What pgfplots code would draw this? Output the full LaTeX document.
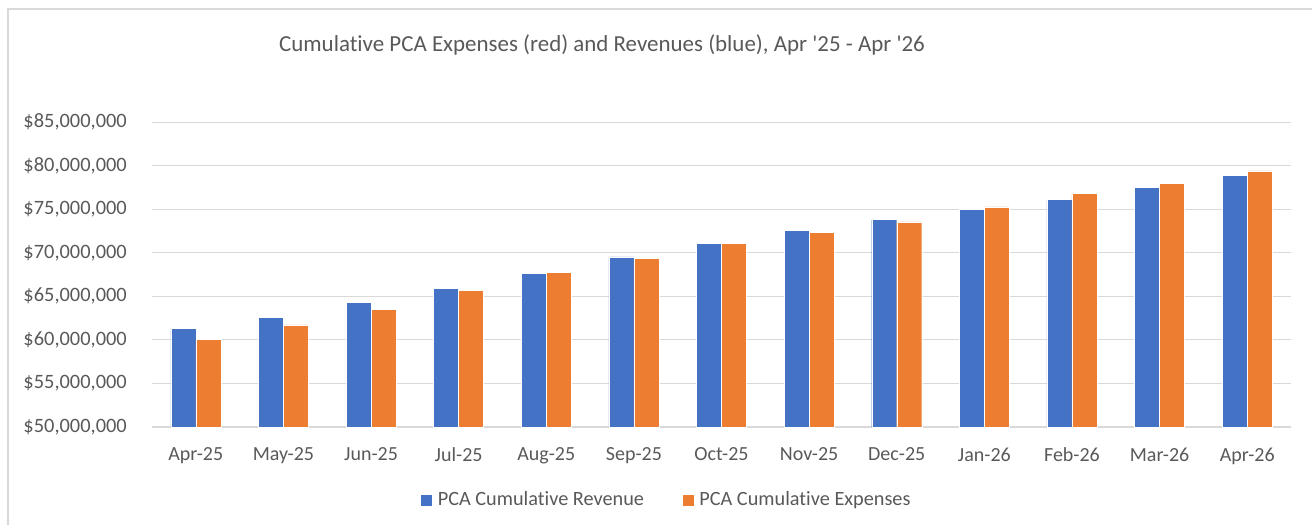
\documentclass[border=0pt]{standalone}
\usepackage{fontspec}
\setmainfont{Carlito}[Ligatures={NoCommon}]
\usepackage{pgfplots}
\pgfplotsset{compat=1.18}
\definecolor{bblue}{HTML}{4472C4}
\definecolor{borange}{HTML}{ED7D31}
\definecolor{txtgray}{HTML}{595959}
\definecolor{gridgray}{HTML}{D9D9D9}
\begin{document}
\begin{tikzpicture}
\path[use as bounding box] (0,0) rectangle (984pt,393.75pt);
\draw[gridgray, line width=1.2pt] (6pt,0) -- (6pt,387pt) -- (984pt,387pt);
\node[txtgray, font=\fontsize{17.2}{20}\selectfont] at (451.5pt,360pt) {Cumulative PCA Expenses (red) and Revenues (blue), Apr \textquotesingle 25 - Apr \textquotesingle 26};
\begin{axis}[
  at={(114pt,73.5pt)}, anchor=south west,
  scale only axis, width=854.25pt, height=228.75pt,
  xmin=-0.5, xmax=12.5,
  ymin=50000000, ymax=85000000,
  ybar=0pt, bar width=18.75pt,
  axis x line*=bottom, axis y line*=left,
  x axis line style={gridgray, line width=1pt, -},
  y axis line style={draw=none},
  scaled y ticks=false,
  xtick=data,
  xticklabels={Apr-25,May-25,Jun-25,Jul-25,Aug-25,Sep-25,Oct-25,Nov-25,Dec-25,Jan-26,Feb-26,Mar-26,Apr-26},
  ytick={50000000,55000000,60000000,65000000,70000000,75000000,80000000,85000000},
  yticklabels={{\$50,000,000},{\$55,000,000},{\$60,000,000},{\$65,000,000},{\$70,000,000},{\$75,000,000},{\$80,000,000},{\$85,000,000}},
  ymajorgrids, grid style={gridgray, line width=0.75pt},
  major tick length=0pt,
  tick style={draw=none},
  /pgf/number format/assume math mode=true,
  ticklabel style={txtgray},
  xticklabel style={anchor=north, inner sep=0pt, yshift=-15.5pt, font=\fontsize{15}{18}\selectfont},
  yticklabel style={anchor=east, inner sep=0pt, xshift=-18.75pt, font=\fontsize{15.3}{18}\selectfont},
  legend columns=2,
  legend style={at={(0.4508,-0.239)}, anchor=center, draw=none, fill=none,
    font=\fontsize{15.2}{18}\selectfont, text=txtgray,
    inner sep=0pt, row sep=0pt,
    nodes={inner sep=0pt},
    /tikz/every odd column/.append style={column sep=3.75pt},
    /tikz/every even column/.append style={column sep=28.5pt}},
  legend image code/.code={\fill[#1] (0pt,-4.5pt) rectangle (9pt,4.5pt);},
]
\addplot[fill=bblue, draw=white, line width=0.3pt] coordinates {
(0,61360000) (1,62590000) (2,64310000) (3,65950000) (4,67670000) (5,69510000) (6,71080000)
(7,72530000) (8,73800000) (9,74980000) (10,76130000) (11,77510000) (12,78880000)};
\addlegendentry{PCA Cumulative Revenue}
\addplot[fill=borange, draw=white, line width=0.3pt] coordinates {
(0,60060000) (1,61710000) (2,63500000) (3,65650000) (4,67750000) (5,69360000) (6,71080000)
(7,72300000) (8,73530000) (9,75250000) (10,76820000) (11,77970000) (12,79380000)};
\addlegendentry{PCA Cumulative Expenses}
\end{axis}
\end{tikzpicture}
\end{document}
